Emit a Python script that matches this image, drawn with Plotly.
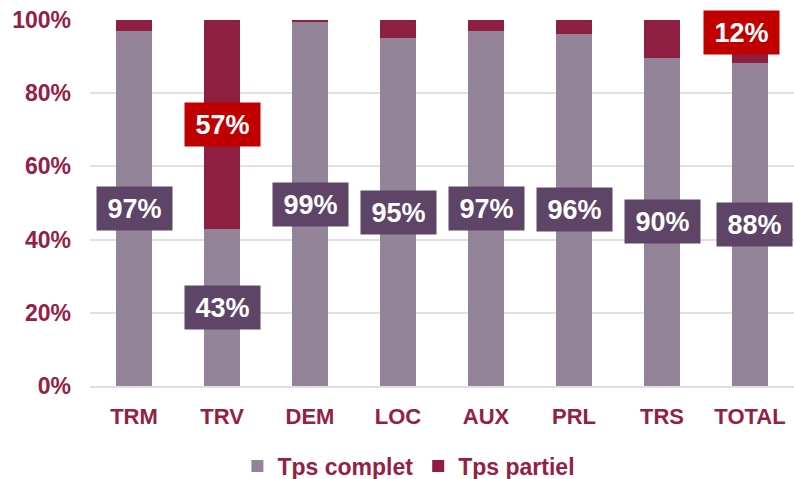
import plotly.graph_objects as go

# données
categories = ['TRM', 'TRV', 'DEM', 'LOC', 'AUX', 'PRL', 'TRS', 'TOTAL']
tps_complet = [97, 43, 99.4, 95, 97, 96.3, 89.7, 88.2]
tps_partiel = [100 - v for v in tps_complet]
labels_complet = ['97%', '43%', '99%', '95%', '97%', '96%', '90%', '88%']
labels_partiel = ['', '57%', '', '', '', '', '', '12%']

col_complet = '#948499'
col_partiel = '#8E1F40'
col_texte = '#952045'
police = 'Liberation Sans, Arial'

fig = go.Figure()
fig.add_trace(go.Bar(name='Tps complet', x=categories, y=tps_complet,
                     marker=dict(color=col_complet, line=dict(width=0))))
fig.add_trace(go.Bar(name='Tps partiel', x=categories, y=tps_partiel,
                     marker=dict(color=col_partiel, line=dict(width=0))))

# étiquettes en boîtes (la dernière colonne est décalée comme dans Excel)
decalage = {'TOTAL': (4, 0)}
decalage_partiel = {'TOTAL': (-9, 9)}
annotations = []
for cat, v, lab in zip(categories, tps_complet, labels_complet):
    dx, dy = decalage.get(cat, (0, 0))
    annotations.append(dict(
        x=cat, y=v / 2, xref='x', yref='y', text=lab, showarrow=False,
        xshift=dx, yshift=dy,
        font=dict(family=police, size=27, color='white', weight='bold'),
        bgcolor='#5E4466', width=73, height=41, align='center'))
for cat, v, p, lab in zip(categories, tps_complet, tps_partiel, labels_partiel):
    if lab:
        dx, dy = decalage_partiel.get(cat, (0, 0))
        annotations.append(dict(
            x=cat, y=v + p / 2, xref='x', yref='y', text=lab, showarrow=False,
            xshift=dx, yshift=dy,
            font=dict(family=police, size=27, color='white', weight='bold'),
            bgcolor='#C00000', width=73, height=41, align='center'))

fig.update_layout(
    barmode='stack',
    bargap=0.6,
    width=794, height=479,
    margin=dict(l=90, r=0, t=20, b=93),
    plot_bgcolor='white', paper_bgcolor='white',
    font=dict(family=police, color=col_texte),
    showlegend=True,
    legend=dict(orientation='h', xref='container', yref='container',
                x=0.515, xanchor='center', y=0.027, yanchor='middle',
                font=dict(size=23, color=col_texte, weight='bold'),
                itemwidth=30, traceorder='normal'),
    annotations=annotations,
)
fig.update_xaxes(tickfont=dict(size=22, color=col_texte, weight='bold'),
                 showline=True, linecolor='#E3DCE3', linewidth=2, ticks='',
                 ticklabelstandoff=10)
fig.update_yaxes(range=[0, 100], dtick=20, ticksuffix='%',
                 tickfont=dict(size=23, color=col_texte, weight='bold'),
                 gridcolor='#E6DDE6', gridwidth=2, zeroline=False,
                 ticklabelstandoff=18)

fig.write_html("out.html", config={'displayModeBar': False},
               post_script="document.body.style.margin='0';")
